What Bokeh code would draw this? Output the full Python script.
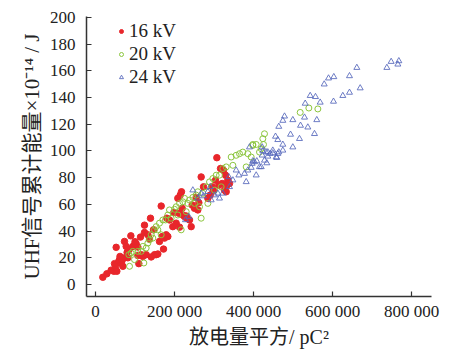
from bokeh.plotting import figure
from bokeh.models import Range1d, Legend, LegendItem, Title
from bokeh.embed import file_html
from bokeh.resources import INLINE

# 16 kV
x16 = [18500, 28700, 39600, 46400, 50600, 54000, 48100, 52300, 59100, 60800, 65000, 69200,
       70900, 67500, 73400, 77600, 89500, 94500, 98700, 102900, 107200, 107200, 109700,
       115600, 119800, 124000, 113900, 124000, 128300, 132500, 136700, 139200, 141000,
       146800, 149400, 153600, 157800, 162000, 166300, 168800, 174700, 178900, 172200,
       180600, 183100, 187300, 195700, 198300, 204200, 208400, 211000, 212700, 214400,
       217700, 219400, 221100, 225300, 229600, 231200, 238000, 242200, 244700, 250600,
       254800, 259000, 261600, 267500, 273400, 284400, 290300, 295400, 298700, 303800,
       307200, 312200, 316500, 320700, 324000, 326600, 329100, 330800, 332500, 335000,
       339200, 80000, 85000, 100000, 62000, 82000]
y16 = [5.4, 8.0, 10.7, 9.9, 13.6, 9.9, 15.6, 27.8, 17.3, 18.6, 16.1, 13.6,
       19.8, 18.1, 32.2, 28.5, 36.4, 28.5, 29.7, 30.5, 28.0, 21.6, 15.6,
       22.3, 21.0, 44.4, 35.5, 38.9, 22.3, 37.2, 34.0, 49.6, 20.6,
       40.9, 22.3, 22.3, 22.8, 32.2, 58.7, 35.9, 34.7, 37.2, 26.5,
       49.6, 35.9, 48.3, 43.3, 53.8, 45.9, 64.5, 53.3, 42.9, 66.9,
       69.4, 57.0, 52.0, 50.8, 51.3, 49.6, 48.3, 43.3, 59.5, 57.0,
       65.2, 55.8, 61.2, 80.5, 73.1, 64.5, 66.9, 73.1, 70.1, 78.1,
       94.9, 74.3, 86.8, 75.6, 85.5, 70.6, 81.8, 69.4, 74.3, 78.1,
       75.6, 24.0, 26.0, 32.0, 21.0, 20.0]

# 20 kV
x20 = [86100, 84400, 90300, 94500, 98700, 107200, 115600, 119800, 122400, 128300, 132500,
       136700, 141000, 145100, 149400, 153600, 157800, 162000, 166300, 170500, 177200,
       183100, 187300, 191500, 200000, 204200, 208400, 212700, 216900, 221100, 225300,
       229600, 233800, 238000, 246400, 250600, 254800, 259000, 263300, 267500, 271700,
       280200, 284400, 288600, 297000, 301300, 305500, 313900, 318100, 322300, 330800,
       343500, 347700, 356100, 364600, 372900, 381500, 385600, 398200, 406800, 419500,
       423600, 427800, 518200, 540100, 562900, 398200, 425300, 415200, 394100]
y20 = [13.6, 22.3, 23.5, 24.8, 18.6, 24.8, 24.8, 28.5, 16.1, 27.3, 31.0,
       33.5, 37.2, 34.7, 40.9, 43.3, 40.9, 45.9, 37.2, 48.3, 48.3,
       52.0, 55.8, 49.6, 56.3, 58.2, 52.0, 60.7, 40.9, 61.9, 64.5,
       54.5, 60.7, 63.2, 65.2, 60.7, 66.9, 69.4, 58.2, 49.6, 68.2,
       73.1, 60.7, 76.8, 79.3, 70.6, 81.8, 81.8, 73.1, 86.8, 88.0,
       95.4, 89.2, 96.7, 97.9, 99.1, 88.0, 97.9, 104.1, 104.8, 101.6,
       109.1, 112.8, 128.8, 132.1, 131.4, 104.8, 104.8, 99.1, 95.4]

# 24 kV
x24 = [767900, 748500, 765400, 737600, 661600, 643000, 603300, 589900, 579000, 670100,
       643000, 626100, 602500, 556900, 543500, 568800, 530900, 478500, 474200, 499500,
       529100, 560200, 464000, 519000, 537500, 554400, 493700, 516400, 455700, 461500,
       499500, 474200, 474200, 436200, 448800, 461500, 422000, 423600, 436200, 459000,
       433700, 398200, 408300, 419500, 394100, 406800, 389900,
       227800, 236300, 246400, 259000, 267500, 273400, 284400, 290300, 292800, 301300,
       309700, 313900, 322300, 337500, 339200, 347700, 356100, 362900, 377200, 381500,
       385600, 396600, 402500, 415200, 422000, 427800, 432100, 442300, 448800, 457400,
       464000]
y24 = [167.3, 166.8, 164.8, 162.3, 162.3, 156.1, 155.4, 154.4, 149.9, 147.0,
       143.7, 141.3, 137.0, 140.5, 141.3, 136.3, 135.5, 125.9, 122.7, 123.2,
       125.1, 123.2, 118.2, 119.0, 117.7, 112.8, 112.3, 109.1, 110.8, 108.3,
       102.8, 104.8, 100.4, 99.1, 98.4, 97.9, 102.8, 99.9, 95.9, 94.9,
       90.9, 92.4, 92.4, 88.0, 87.5, 81.8, 102.8,
       48.3, 50.8, 70.6, 64.5, 68.2, 66.2, 69.4, 73.1, 63.2, 66.9,
       68.2, 64.5, 68.2, 80.5, 73.1, 78.1, 85.5, 81.8, 83.0, 76.8,
       85.5, 90.5, 91.7, 88.0, 96.7, 92.9, 99.1, 97.9, 100.4, 95.4,
       99.1]

series_labels = ["16 kV", "20 kV", "24 kV"]
x_ticks = [0, 200000, 400000, 600000, 800000]
x_tick_labels = ["0", "200 000", "400 000", "600 000", "800 000"]
y_ticks = [0, 20, 40, 60, 80, 100, 120, 140, 160, 180, 200]
x_title = "放电量平方/ pC²"
y_title = "UHF信号累计能量×10⁻¹⁴ / J"

FONT = "'Liberation Serif', 'Noto Sans CJK SC', serif"

p = figure(width=452, height=350, output_backend="svg", toolbar_location=None,
           x_range=Range1d(-22800, 850600), y_range=Range1d(-9, 200.6),
           min_border_left=86, min_border_right=21, min_border_top=16, min_border_bottom=54)
p.outline_line_color = None
p.grid.visible = False
p.background_fill_color = "white"

r1 = p.scatter(x16, y16, marker="circle", size=6.5, fill_color="#e8262b", line_color="#e8262b")
r2 = p.scatter(x20, y20, marker="circle", size=6, fill_color=None, line_color="#8cc63e", line_width=1)
r3 = p.scatter(x24, y24, marker="triangle", size=6, fill_color=None, line_color="#5566bb",
               line_width=1, line_alpha=0.85)

for ax in (p.xaxis[0], p.yaxis[0]):
    ax.major_tick_in = 5
    ax.major_tick_out = 0
    ax.minor_tick_line_color = None
    ax.axis_line_color = "#333333"
    ax.axis_line_width = 1.5
    ax.major_tick_line_color = "#333333"
    ax.major_tick_line_width = 1.2
    ax.major_label_text_font = FONT
    ax.major_label_text_font_size = "17px"
    ax.major_label_text_color = "#222222"
    ax.axis_label_text_font = FONT
    ax.axis_label_text_font_style = "normal"
    ax.axis_label_text_color = "#222222"

p.xaxis.ticker = x_ticks
p.xaxis.major_label_overrides = dict(zip(x_ticks, x_tick_labels))
p.xaxis.major_label_standoff = 5

# x-axis title as a panel below the axis
xtitle = Title(text=x_title, align="center", standoff=0, text_font=FONT,
               text_font_size="20px", text_font_style="normal", text_color="#222222")
p.add_layout(xtitle, "below")

p.yaxis.ticker = y_ticks
p.yaxis.major_label_standoff = 11
p.yaxis.axis_label = y_title
p.yaxis.axis_label_standoff = 3
p.yaxis.axis_label_text_font_size = "21px"

legend = Legend(items=[LegendItem(label=series_labels[0], renderers=[r1]),
                       LegendItem(label=series_labels[1], renderers=[r2]),
                       LegendItem(label=series_labels[2], renderers=[r3])],
                location=(30, 208), orientation="vertical")
legend.background_fill_alpha = 0
legend.border_line_color = None
legend.padding = 0
legend.margin = 0
legend.spacing = 1
legend.glyph_width = 10
legend.glyph_height = 20
legend.label_height = 20
legend.label_standoff = 3
legend.label_text_font = FONT
legend.label_text_font_size = "19px"
legend.label_text_color = "#222222"
p.add_layout(legend)

open("out.html", "w").write(file_html(p, INLINE))
